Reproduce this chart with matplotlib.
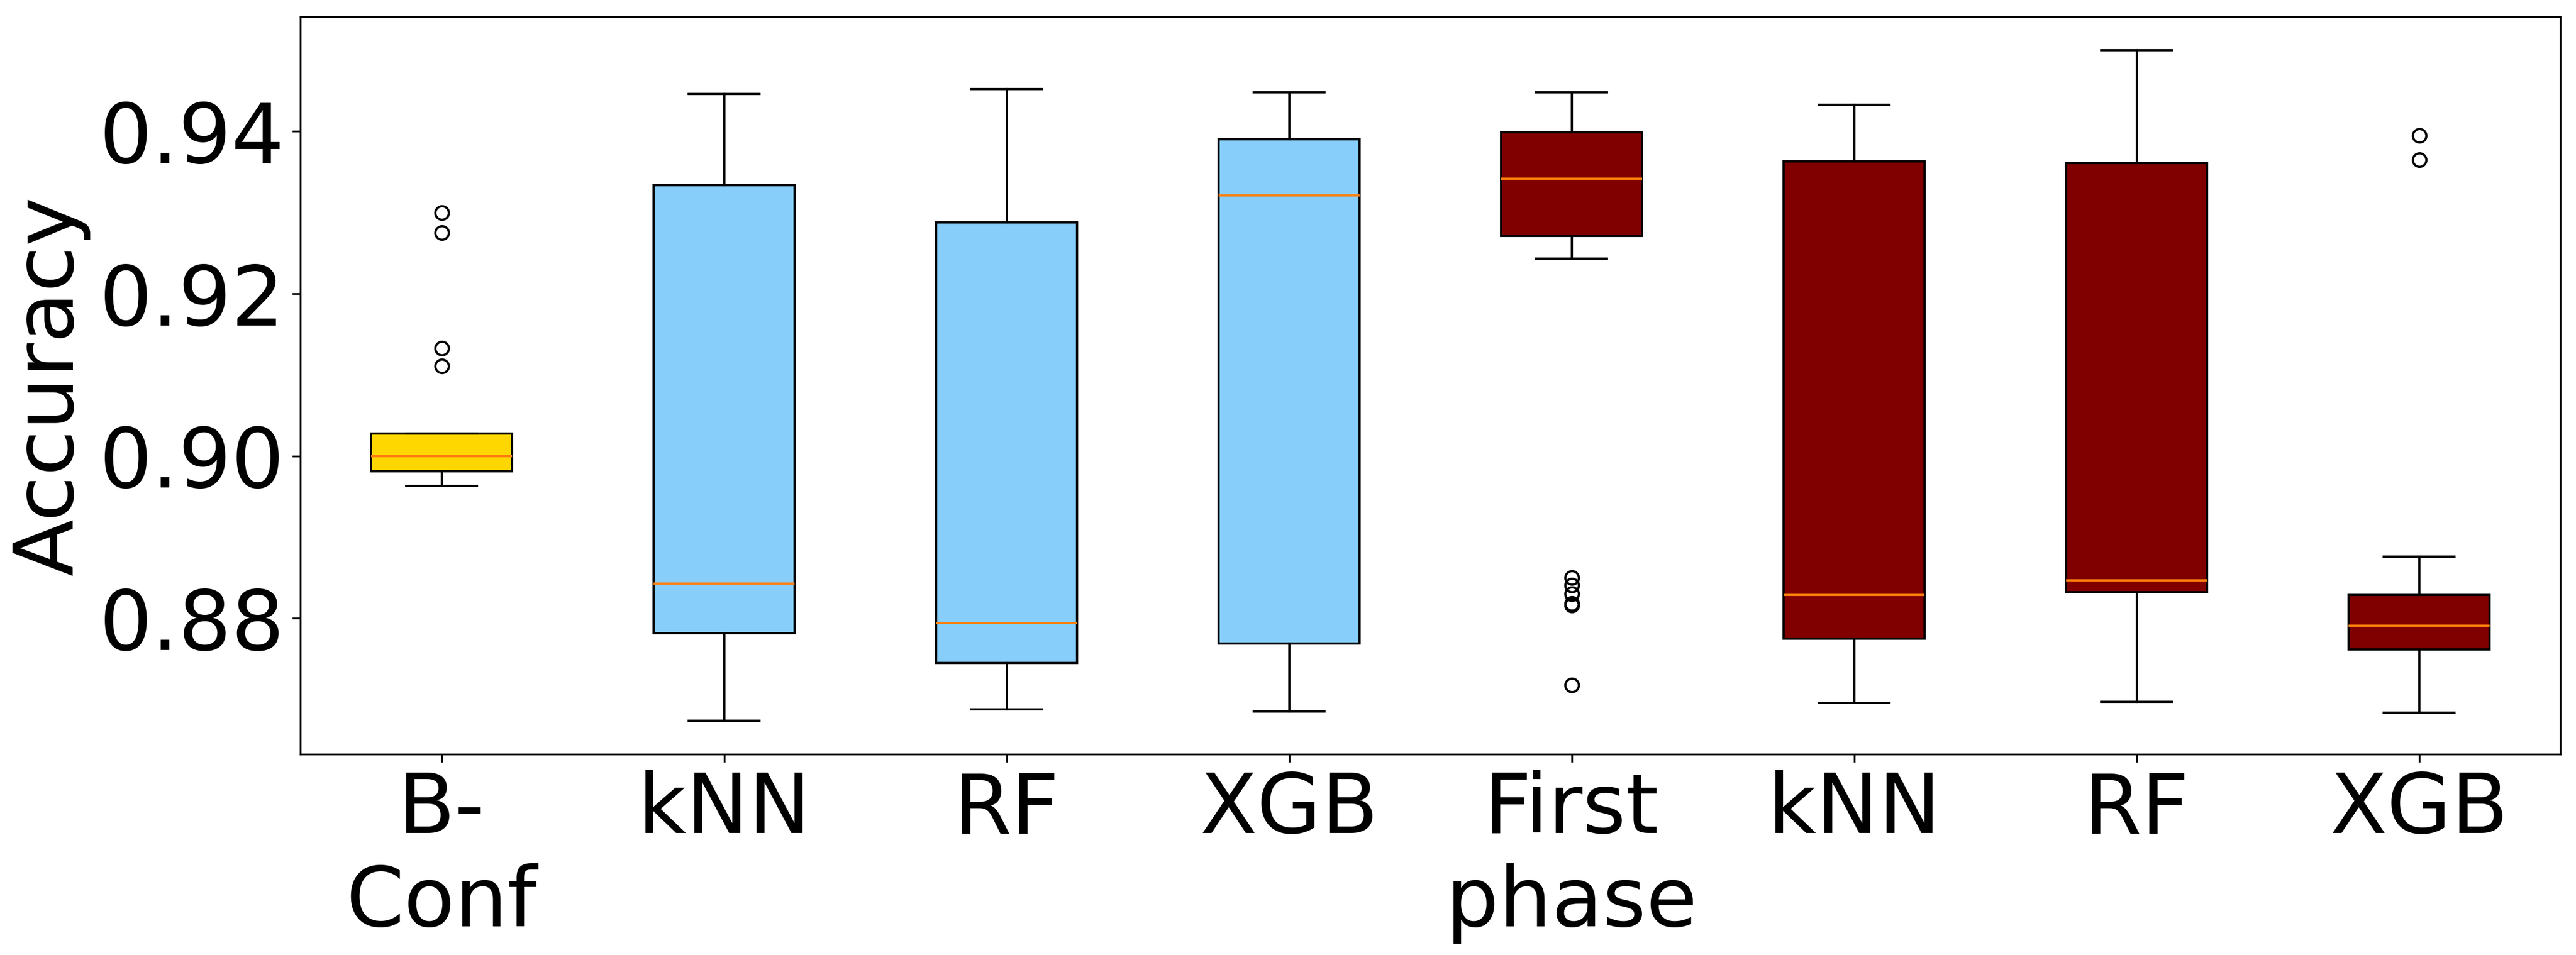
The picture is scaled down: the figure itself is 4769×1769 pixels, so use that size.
import matplotlib
matplotlib.use("Agg")
import matplotlib.pyplot as plt

# box statistics
labels = ["B-\nConf", "kNN", "RF", "XGB", "First\nphase", "kNN", "RF", "XGB"]
whislo = [0.8963, 0.8674, 0.8688, 0.8685, 0.9243, 0.8696, 0.8697, 0.8684]
q1 = [0.8981, 0.8782, 0.8745, 0.8769, 0.9271, 0.8775, 0.8832, 0.8762]
med = [0.9000, 0.8843, 0.8794, 0.9321, 0.9342, 0.8829, 0.8847, 0.8791]
q3 = [0.9028, 0.9334, 0.9288, 0.9390, 0.9399, 0.9363, 0.9361, 0.8829]
whishi = [0.9028, 0.9446, 0.9452, 0.9448, 0.9448, 0.9433, 0.9500, 0.8876]
fliers = [
    [0.9300, 0.9275, 0.9133, 0.9111],
    [], [], [],
    [0.8850, 0.8841, 0.8830, 0.8818, 0.8816, 0.8718],
    [], [],
    [0.9395, 0.9365],
]
colors = ["gold"] + ["lightskyblue"] * 3 + ["maroon"] * 4

stats = []
for i in range(len(labels)):
    stats.append({
        "label": labels[i],
        "whislo": whislo[i],
        "q1": q1[i],
        "med": med[i],
        "q3": q3[i],
        "whishi": whishi[i],
        "fliers": fliers[i],
    })

fig = plt.figure(figsize=(4769 / 300, 1769 / 300), dpi=300)
ax = fig.add_axes([556 / 4769, 1 - 1397 / 1769, (4740 - 556) / 4769, (1397 - 31) / 1769])

bp = ax.bxp(stats, patch_artist=True, widths=0.5)
for box, c in zip(bp["boxes"], colors):
    box.set_facecolor(c)
    box.set_edgecolor("black")

ax.set_ylabel("Accuracy", fontsize=37)
ax.tick_params(axis="both", labelsize=37)
ax.set_yticks([0.88, 0.90, 0.92, 0.94])
ax.set_yticklabels(["0.88", "0.90", "0.92", "0.94"])

fig.savefig("out.png", dpi=300)
